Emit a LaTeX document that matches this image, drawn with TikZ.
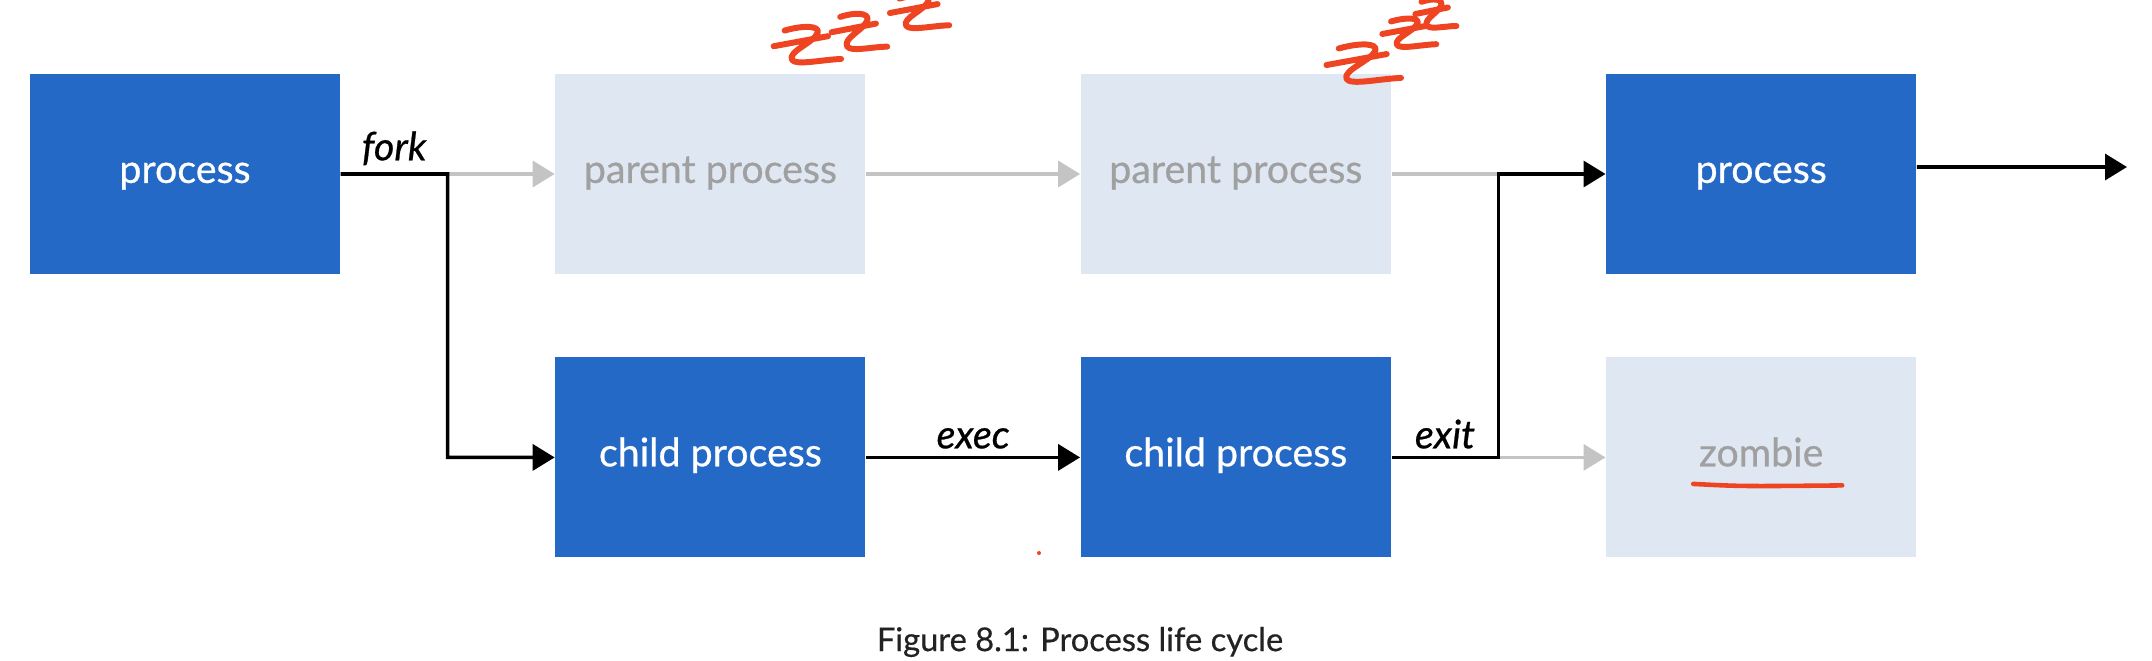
\documentclass[tikz,border=0pt]{standalone}
\usepackage{fontspec}
\setmainfont{Lato}
\newfontfamily\boxfont{Lato}[FakeBold=0.6]
\newfontfamily\capfont{Lato}[FakeBold=0.5]
\usetikzlibrary{arrows.meta,positioning,calc}

\definecolor{procblue}{HTML}{2469C6}
\definecolor{paleblue}{HTML}{DFE7F3}
\definecolor{paletext}{HTML}{A0A0A0}
\definecolor{arrgray}{HTML}{C4C4C4}
\definecolor{scribble}{HTML}{EE4422}
\definecolor{captext}{HTML}{222222}

\begin{document}
\begin{tikzpicture}[
  box/.style={align=center, minimum width=3.1cm, minimum height=2.0cm, inner sep=0pt, text height=1ex, text depth=0pt, font=\boxfont\fontsize{11.2}{13}\selectfont},
  live/.style={box, fill=procblue, text=white},
  dead/.style={box, fill=paleblue, text=paletext},
  arr/.style={-{Triangle[length=0.22cm, width=0.26cm]}, line width=1pt},
  blk/.style={arr, black},
  gry/.style={arr, arrgray},
  lbl/.style={font=\boxfont\fontsize{11.2}{13}\selectfont\itshape, inner sep=2pt},
  zstroke/.style={scribble, line width=1.7pt, line cap=round, line join=round}
]
\useasboundingbox (0,0) rectangle (21.52,6.60);

\node[live] (proc) at (1.85,4.86) {process};
\node[dead, right=2.14cm of proc] (par1) {parent process};
\node[dead, right=2.14cm of par1] (par2) {parent process};
\node[live, right=2.14cm of par2] (proc2) {process};

\node[live, below=0.82cm of par1] (child1) {child process};
\node[live, below=0.82cm of par2] (child2) {child process};
\node[dead, below=0.82cm of proc2] (zombie) {zombie};

\coordinate (forkpt) at ($(proc.east)!0.5!(par1.west)$);
\coordinate (exitpt) at ($(child2.east)!0.5!(zombie.west)$);
\coordinate (outpt) at (21.27,4.93);

% faded paths first
\draw[gry] (forkpt) -- (par1.west);
\draw[gry] (par1) -- (par2);
\draw[arrgray, line width=1pt] (par2.east) -- (exitpt |- par2.east);
\draw[gry] (exitpt) -- (zombie.west);

\draw[blk] (proc.east) -- node[above, lbl] {fork} (forkpt) |- (child1.west);
\draw[blk] (child1) -- node[above, lbl] {exec} (child2);
\draw[blk] (child2.east) -- node[above, lbl] {exit} (exitpt) |- (proc2.west);
\draw[blk] ([yshift=0.07cm]proc2.east) -- (outpt);

% red scribbles
\foreach \zx/\zy/\zw/\zh in {7.77/5.90/0.65/0.40, 8.35/6.04/0.53/0.40, 8.93/6.25/0.57/0.37,
                              13.30/5.70/0.72/0.42, 13.85/6.07/0.52/0.32, 14.18/6.27/0.39/0.32}
  \draw[zstroke, shift={(\zx,\zy)}, rotate=8, xscale=\zw, yscale=\zh]
    (0.2,0.95) .. controls (0.5,1.02) and (0.75,0.95) .. (0.7,0.78)
    .. controls (0.62,0.55) and (0.2,0.42) .. (0.25,0.2)
    .. controls (0.3,0.04) and (0.7,0.1) .. (1,0.05)
    (0,0.6) -- (0.85,0.66);
\draw[zstroke, line width=1.3pt] ($(zombie.center)+(-0.68,-0.265)$) .. controls ($(zombie.center)+(-0.2,-0.29)$) .. ($(zombie.center)+(0.81,-0.28)$);
\fill[scribble] (10.39,1.07) circle (0.02);

\node[font=\capfont\fontsize{9.3}{11}\selectfont, text=captext] (caption) at (10.80,0.18) {Figure 8.1: Process life cycle};

\end{tikzpicture}
\end{document}
